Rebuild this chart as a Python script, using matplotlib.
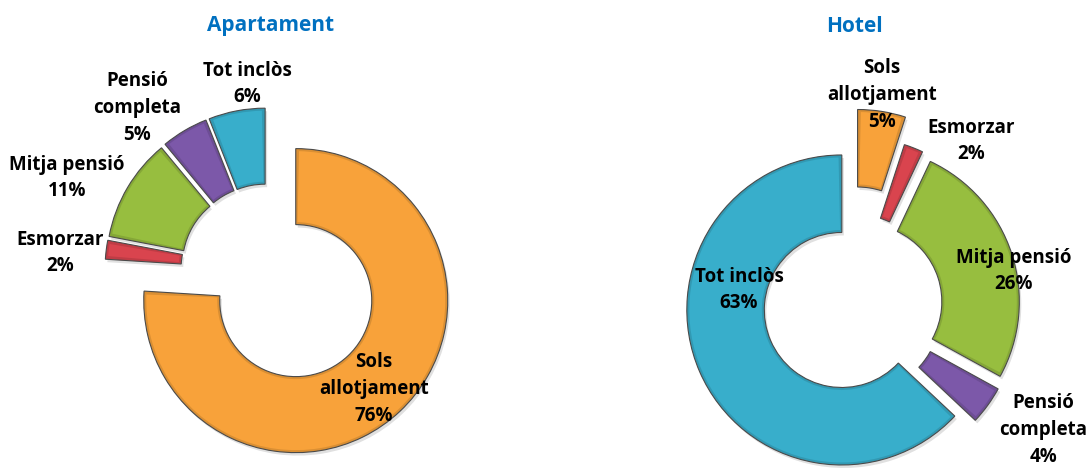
import numpy as np
import matplotlib
matplotlib.use('Agg')
import matplotlib.pyplot as plt
import matplotlib.patches as mpatches
from matplotlib.colors import to_rgb

# --- data ---
categories = ['Sols allotjament', 'Esmorzar', 'Mitja pensió', 'Pensió completa', 'Tot inclòs']
label_names = ['Sols\nallotjament', 'Esmorzar', 'Mitja pensió', 'Pensió\ncompleta', 'Tot inclòs']
apartament = [76, 2, 11, 5, 6]
hotel = [5, 2, 26, 4, 63]
titles = ['Apartament', 'Hotel']

colors = ['#F8A23A', '#D9444E', '#97BE3F', '#7C58A9', '#38AECB']

W, H = 1091, 470
plt.rcParams['font.family'] = ['Open Sans', 'DejaVu Sans']

fig = plt.figure(figsize=(W / 100, H / 100), dpi=100)
ax = fig.add_axes([0, 0, 1, 1])


def shade(c, f):
    return tuple(np.clip(np.array(to_rgb(c)) * f, 0, 1))


def donut(values, cx, cy, r, explode, label_xy, title, title_xy):
    """cx, cy, label_xy, title_xy in pixels from top-left"""
    wedges, _ = ax.pie(values, colors=[shade(c, 0.88) for c in colors], startangle=90,
                       counterclock=False, radius=r, center=(cx, H - cy), explode=explode,
                       wedgeprops=dict(width=r * 0.5, edgecolor='#4a4a4a', linewidth=0.8))
    for w, c in zip(wedges, colors):
        w.set_zorder(3)
        # soft shadow
        ax.add_patch(mpatches.Wedge((w.center[0] + 2, w.center[1] - 3), w.r, w.theta1, w.theta2,
                                    width=w.width, facecolor='black', alpha=0.12,
                                    edgecolor='none', zorder=2))
        # bevel: lighter inset face
        ins = 2.5
        dth = np.degrees(ins / (w.r - w.width / 2))
        ax.add_patch(mpatches.Wedge(w.center, w.r - ins, w.theta1 + dth, w.theta2 - dth,
                                    width=w.width - 2 * ins, facecolor=c,
                                    edgecolor='none', zorder=4))
    for name, v, (lx, ly) in zip(label_names, values, label_xy):
        ax.text(lx, H - ly, f'{name}\n{v}%', ha='center', va='center', fontsize=13.5,
                fontweight='bold', color='black', linespacing=1.45, zorder=5)
    ax.text(title_xy[0], H - title_xy[1], title, ha='center', va='center', fontsize=15,
            fontweight='bold', color='#0070C0')


donut(apartament, 267, 270, 152, [42, 10, 10, 10, 10],
      [(374, 389), (60, 253), (67, 178), (137, 108), (247, 84)],
      titles[0], (271, 25))
donut(hotel, 851, 306, 155, [42, 15, 14, 14, 10],
      [(882, 95), (971, 141), (1014, 271), (1043, 430), (739, 290)],
      titles[1], (854, 26))

ax.set_xlim(0, W)
ax.set_ylim(0, H)
ax.set_aspect('auto')
ax.axis('off')

fig.savefig('out.png', dpi=100)
